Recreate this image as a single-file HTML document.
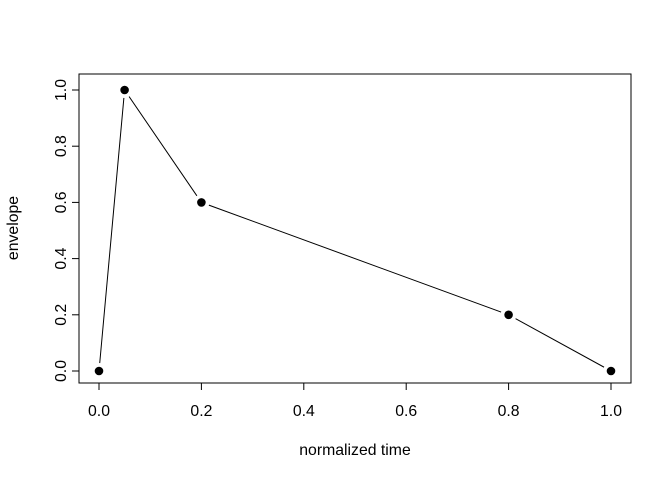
<!DOCTYPE html>
<html><head><style>body{margin:0;background:#fff}</style></head><body>
<svg width="672" height="480" xmlns="http://www.w3.org/2000/svg" font-family="Liberation Sans, sans-serif" font-size="15.8">
<rect x="79" y="74" width="552" height="309" fill="none" stroke="#000"/>
<polyline points="99,371 124.6,90 201.4,202.4 508.6,314.8 611,371" fill="none" stroke="#000"/>
<g fill="#fff">
<circle cx="99" cy="371" r="8"/><circle cx="124.6" cy="90" r="8"/><circle cx="201.4" cy="202.4" r="8"/><circle cx="508.6" cy="314.8" r="8"/><circle cx="611" cy="371" r="8"/>
</g>
<g fill="#000">
<circle cx="99" cy="371" r="4.3"/><circle cx="124.6" cy="90" r="4.3"/><circle cx="201.4" cy="202.4" r="4.3"/><circle cx="508.6" cy="314.8" r="4.3"/><circle cx="611" cy="371" r="4.3"/>
</g>
<g stroke="#000">
<line x1="99" y1="383" x2="611" y2="383"/>
<line x1="99" y1="383" x2="99" y2="390"/><line x1="201.4" y1="383" x2="201.4" y2="390"/><line x1="303.8" y1="383" x2="303.8" y2="390"/><line x1="406.2" y1="383" x2="406.2" y2="390"/><line x1="508.6" y1="383" x2="508.6" y2="390"/><line x1="611" y1="383" x2="611" y2="390"/>
<line x1="79" y1="371" x2="79" y2="90"/>
<line x1="79" y1="371" x2="72" y2="371"/><line x1="79" y1="314.8" x2="72" y2="314.8"/><line x1="79" y1="258.6" x2="72" y2="258.6"/><line x1="79" y1="202.4" x2="72" y2="202.4"/><line x1="79" y1="146.2" x2="72" y2="146.2"/><line x1="79" y1="90" x2="72" y2="90"/>
</g>
<g text-anchor="middle">
<text x="99" y="416">0.0</text><text x="201.4" y="416">0.2</text><text x="303.8" y="416">0.4</text><text x="406.2" y="416">0.6</text><text x="508.6" y="416">0.8</text><text x="611" y="416">1.0</text>
<text transform="translate(66,371) rotate(-90)">0.0</text>
<text transform="translate(66,314.8) rotate(-90)">0.2</text>
<text transform="translate(66,258.6) rotate(-90)">0.4</text>
<text transform="translate(66,202.4) rotate(-90)">0.6</text>
<text transform="translate(66,146.2) rotate(-90)">0.8</text>
<text transform="translate(66,90) rotate(-90)">1.0</text>
<text x="355" y="455">normalized time</text>
<text transform="translate(18,228) rotate(-90)">envelope</text>
</g>
</svg>
</body></html>
